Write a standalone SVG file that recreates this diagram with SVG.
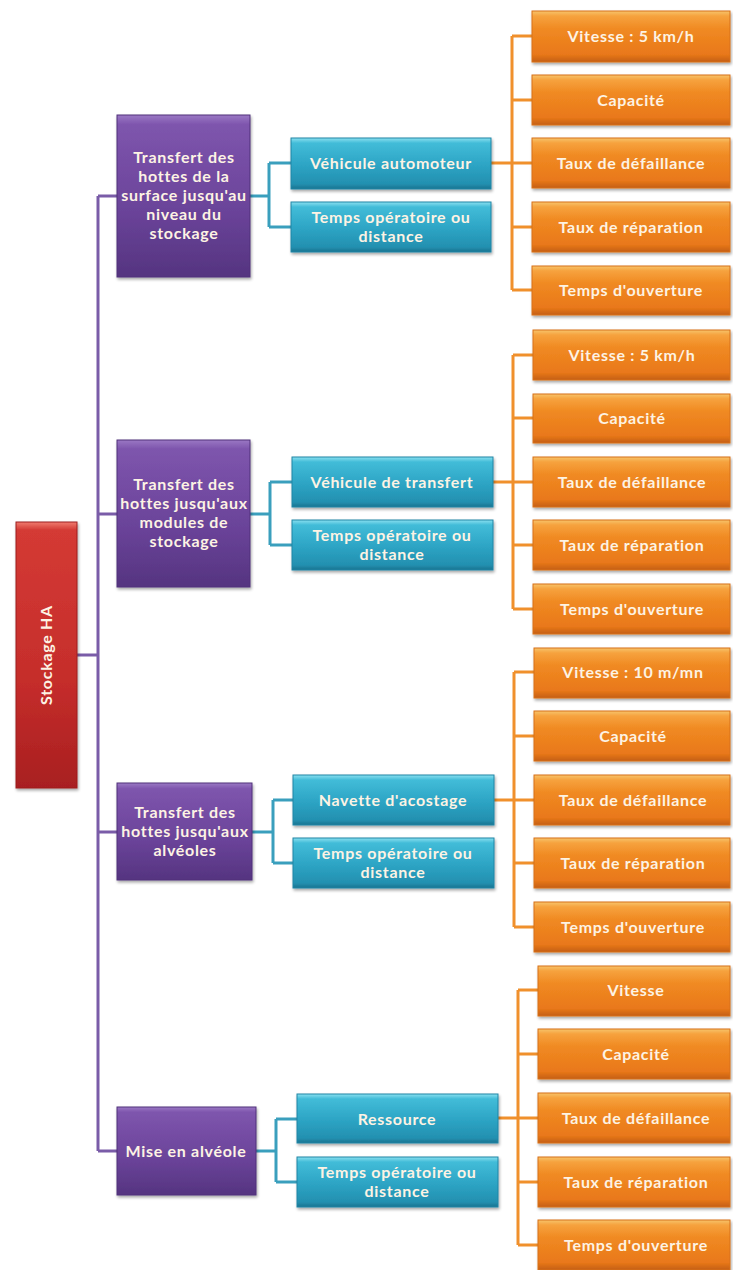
<svg xmlns="http://www.w3.org/2000/svg" width="733" height="1270" viewBox="0 0 733 1270">
<defs>
<linearGradient id="gO" x1="0" y1="0" x2="0" y2="1">
<stop offset="0" stop-color="#f7c46a"/><stop offset="0.1" stop-color="#f6a23e"/><stop offset="0.35" stop-color="#f08a22"/><stop offset="0.85" stop-color="#e9781a"/><stop offset="1" stop-color="#c45f10"/>
</linearGradient>
<linearGradient id="gB" x1="0" y1="0" x2="0" y2="1">
<stop offset="0" stop-color="#8be0f0"/><stop offset="0.1" stop-color="#42bcd8"/><stop offset="0.5" stop-color="#2ea6c6"/><stop offset="0.9" stop-color="#2390b0"/><stop offset="1" stop-color="#1b7390"/>
</linearGradient>
<linearGradient id="gP" x1="0" y1="0" x2="0" y2="1">
<stop offset="0" stop-color="#9a78c4"/><stop offset="0.06" stop-color="#7e55ad"/><stop offset="0.6" stop-color="#6a4399"/><stop offset="1" stop-color="#553480"/>
</linearGradient>
<linearGradient id="gR" x1="0" y1="0" x2="0" y2="1">
<stop offset="0" stop-color="#f07b70"/><stop offset="0.03" stop-color="#d43a34"/><stop offset="0.6" stop-color="#c52d2b"/><stop offset="1" stop-color="#a81f20"/>
</linearGradient>
<filter id="sh" x="-10%" y="-10%" width="125%" height="130%">
<feGaussianBlur in="SourceAlpha" stdDeviation="1.5"/><feOffset dx="1" dy="2" result="b"/>
<feComponentTransfer><feFuncA type="linear" slope="0.35"/></feComponentTransfer>
<feMerge><feMergeNode/><feMergeNode in="SourceGraphic"/></feMerge>
</filter>
</defs>
<style>
.o{fill:url(#gO);stroke:#d8701a;stroke-width:1;filter:url(#sh)}
.b{fill:url(#gB);stroke:#1f86a6;stroke-width:1;filter:url(#sh)}
.p{fill:url(#gP);stroke:#50307a;stroke-width:1;filter:url(#sh)}
.r{fill:url(#gR);stroke:#9e1e1e;stroke-width:1;filter:url(#sh)}
text{font-family:Lato,"Open Sans","Liberation Sans",sans-serif;font-size:16px;font-weight:bold;letter-spacing:0.7px;fill:#fdf3e4;text-anchor:middle}
.lp{stroke:#7a5ca8;stroke-width:3;fill:none}
.lb{stroke:#3a9fbd;stroke-width:3;fill:none}
.lo{stroke:#f0902c;stroke-width:3;fill:none}
</style>
<rect width="733" height="1270" fill="#ffffff"/>
<g id="connectors">
<path class="lp" d="M77 655H98 M98 196V1151 M98 196H117 M98 514H117 M98 832H117 M98 1151H117"/>
<path class="lb" d="M250 196H269 M269 163V227 M269 163H291 M269 227H291"/>
<path class="lb" d="M250 514H270 M270 482V545 M270 482H292 M270 545H292"/>
<path class="lb" d="M252 832H273 M273 800V863 M273 800H293 M273 863H293"/>
<path class="lb" d="M256 1151H276 M276 1119V1182 M276 1119H297 M276 1182H297"/>
<path class="lo" d="M491 163H512 M512 36V290 M512 36H532 M512 100H532 M512 163H532 M512 227H532 M512 290H532"/>
<path class="lo" d="M493 482H513 M513 355V609 M513 355H533 M513 418H533 M513 482H533 M513 545H533 M513 609H533"/>
<path class="lo" d="M494 800H514 M514 672V927 M514 672H534 M514 736H534 M514 800H534 M514 863H534 M514 927H534"/>
<path class="lo" d="M498 1118H518 M518 990V1245 M518 990H538 M518 1054H538 M518 1118H538 M518 1182H538 M518 1245H538"/>
</g>
<g id="root"><rect class="r" x="16" y="522" width="61" height="266"/><text transform="translate(52 655) rotate(-90)">Stockage HA</text></g>
<g id="p1"><rect class="p" x="117" y="115" width="133" height="162"/><text x="184" y="163">Transfert des</text><text x="184" y="182">hottes de la</text><text x="184" y="201">surface jusqu'au</text><text x="184" y="220">niveau du</text><text x="184" y="239">stockage</text></g>
<g id="p2"><rect class="p" x="117" y="440" width="133" height="147"/><text x="184" y="490">Transfert des</text><text x="184" y="509">hottes jusqu'aux</text><text x="184" y="528">modules de</text><text x="184" y="547">stockage</text></g>
<g id="p3"><rect class="p" x="117" y="783" width="135" height="97"/><text x="185" y="818">Transfert des</text><text x="185" y="837">hottes jusqu'aux</text><text x="185" y="856">alvéoles</text></g>
<g id="p4"><rect class="p" x="117" y="1107" width="139" height="88"/><text x="186" y="1157">Mise en alvéole</text></g>
<g id="b1a"><rect class="b" x="291" y="138" width="200" height="51"/><text x="391" y="169">Véhicule automoteur</text></g>
<g id="b1b"><rect class="b" x="291" y="202" width="200" height="50"/><text x="391" y="223">Temps opératoire ou</text><text x="391" y="242">distance</text></g>
<g id="b2a"><rect class="b" x="292" y="457" width="201" height="50"/><text x="392" y="488">Véhicule de transfert</text></g>
<g id="b2b"><rect class="b" x="292" y="520" width="201" height="50"/><text x="392" y="541">Temps opératoire ou</text><text x="392" y="560">distance</text></g>
<g id="b3a"><rect class="b" x="293" y="775" width="201" height="50"/><text x="393" y="806">Navette d'acostage</text></g>
<g id="b3b"><rect class="b" x="293" y="838" width="201" height="50"/><text x="393" y="859">Temps opératoire ou</text><text x="393" y="878">distance</text></g>
<g id="b4a"><rect class="b" x="297" y="1094" width="201" height="49"/><text x="397" y="1125">Ressource</text></g>
<g id="b4b"><rect class="b" x="297" y="1157" width="201" height="50"/><text x="397" y="1178">Temps opératoire ou</text><text x="397" y="1197">distance</text></g>
<g id="o1-1"><rect class="o" x="532" y="11" width="198" height="51"/><text x="631" y="42">Vitesse : 5 km/h</text></g>
<g id="o1-2"><rect class="o" x="532" y="75" width="198" height="50"/><text x="631" y="106">Capacité</text></g>
<g id="o1-3"><rect class="o" x="532" y="138" width="198" height="50"/><text x="631" y="169">Taux de défaillance</text></g>
<g id="o1-4"><rect class="o" x="532" y="202" width="198" height="50"/><text x="631" y="233">Taux de réparation</text></g>
<g id="o1-5"><rect class="o" x="532" y="266" width="198" height="49"/><text x="631" y="296">Temps d'ouverture</text></g>
<g id="o2-1"><rect class="o" x="533" y="330" width="197" height="50"/><text x="632" y="361">Vitesse : 5 km/h</text></g>
<g id="o2-2"><rect class="o" x="533" y="394" width="197" height="49"/><text x="632" y="424">Capacité</text></g>
<g id="o2-3"><rect class="o" x="533" y="457" width="197" height="50"/><text x="632" y="488">Taux de défaillance</text></g>
<g id="o2-4"><rect class="o" x="533" y="520" width="197" height="50"/><text x="632" y="551">Taux de réparation</text></g>
<g id="o2-5"><rect class="o" x="533" y="584" width="197" height="50"/><text x="632" y="615">Temps d'ouverture</text></g>
<g id="o3-1"><rect class="o" x="534" y="648" width="196" height="50"/><text x="633" y="678">Vitesse : 10 m/mn</text></g>
<g id="o3-2"><rect class="o" x="534" y="711" width="196" height="50"/><text x="633" y="742">Capacité</text></g>
<g id="o3-3"><rect class="o" x="534" y="775" width="196" height="50"/><text x="633" y="806">Taux de défaillance</text></g>
<g id="o3-4"><rect class="o" x="534" y="838" width="196" height="50"/><text x="633" y="869">Taux de réparation</text></g>
<g id="o3-5"><rect class="o" x="534" y="902" width="196" height="50"/><text x="633" y="933">Temps d'ouverture</text></g>
<g id="o4-1"><rect class="o" x="538" y="966" width="192" height="50"/><text x="636" y="996">Vitesse</text></g>
<g id="o4-2"><rect class="o" x="538" y="1029" width="192" height="50"/><text x="636" y="1060">Capacité</text></g>
<g id="o4-3"><rect class="o" x="538" y="1093" width="192" height="50"/><text x="636" y="1124">Taux de défaillance</text></g>
<g id="o4-4"><rect class="o" x="538" y="1157" width="192" height="50"/><text x="636" y="1188">Taux de réparation</text></g>
<g id="o4-5"><rect class="o" x="538" y="1220" width="192" height="50"/><text x="636" y="1251">Temps d'ouverture</text></g>
</svg>
